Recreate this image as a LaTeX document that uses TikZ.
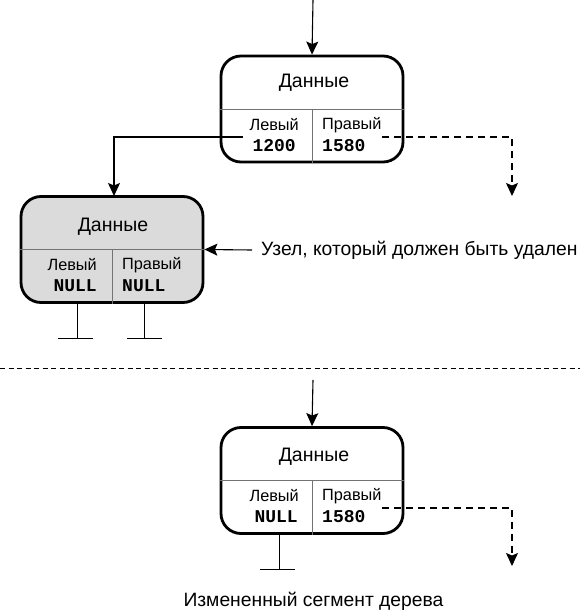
\documentclass[tikz,border=0pt]{standalone}
\usepackage{fontspec}
\setmainfont{Liberation Sans}
\newfontfamily\monof{Liberation Mono}
\usetikzlibrary{arrows.meta}
\begin{document}
\begin{tikzpicture}[x=1pt,y=-1pt,
  nodebox/.style={draw, line width=2.8pt, rounded corners=20pt, minimum width=182pt, minimum height=106pt, inner sep=0pt},
  div/.style={draw=black!55, line width=0.7pt},
  conn/.style={line width=1.1pt, -{Stealth[length=13pt,width=12pt,inset=2.5pt]}},
  dconn/.style={conn, dash pattern=on 7pt off 5pt},
  title/.style={font=\fontsize{19.5}{21}\selectfont, inner sep=0pt},
  lab/.style={font=\fontsize{16.3}{18}\selectfont, inner sep=0pt},
  val/.style={font=\monof\bfseries\fontsize{18}{19}\selectfont, inner sep=0pt},
  note/.style={font=\fontsize{19.3}{21}\selectfont, inner sep=0pt},
  gnd/.style={line width=0.9pt}
]
\useasboundingbox (0,0) rectangle (580,612);

% ---------- top node ----------
\node[nodebox] (top) at (312,109) {};
\draw[div] (top.west) -- (top.east);
\draw[div] (top.center) -- (top.south);
\node[title] (t1) at (314,83) {Данные};
\node[lab, anchor=east] (t2) at (299,125) {Левый};
\node[val, anchor=east] (t3) at (296,146) {1200};
\node[lab, anchor=west] (t4) at (322,125) {Правый};
\node[val, anchor=west] (t5) at (322,146) {1580};

\coordinate (in1) at (313,0);
\draw[conn] (in1) -- (top.north);

% ---------- node to be deleted ----------
\node[nodebox, fill=black!14] (gray) at (112,249.5) {};
\draw[div] (gray.west) -- (gray.east);
\draw[div] (gray.center) -- (gray.south);
\node[title] (g1) at (113,227) {Данные};
\node[lab, anchor=east] (g2) at (97,265) {Левый};
\node[val, anchor=east] (g3) at (97,286) {NULL};
\node[lab, anchor=west] (g4) at (122,265) {Правый};
\node[val, anchor=west] (g5) at (122,286) {NULL};

\coordinate (tl) at (243,137);
\coordinate (tlend) at (114,196);
\draw[conn] (tl) -| (tlend);

\coordinate (tr) at (382,137);
\coordinate (trend) at (512,196);
\draw[dconn] (tr) -| (trend);

% stems of gray node
\coordinate (s1a) at (77,302);
\coordinate (s1b) at (77,338);
\coordinate (s2a) at (144,302);
\coordinate (s2b) at (144,338);
\draw[gnd] (s1a) -- (s1b);
\draw[gnd] ([xshift=-19pt]s1b) -- ([xshift=16pt]s1b);
\draw[gnd] (s2a) -- (s2b);
\draw[gnd] ([xshift=-17pt]s2b) -- ([xshift=18pt]s2b);

% label
\node[note, anchor=west] (lbl) at (261,250) {Узел, который должен быть удален};
\draw[conn] ([xshift=-9pt]lbl.west) -- (gray.east);

% separator
\coordinate (sepL) at (0,368);
\coordinate (sepR) at (580,368);
\draw[line width=0.8pt, dash pattern=on 5pt off 3.5pt] (sepL) -- (sepR);

% ---------- modified node ----------
\node[nodebox] (bot) at (312,480.5) {};
\draw[div] (bot.west) -- (bot.east);
\draw[div] (bot.center) -- (bot.south);
\node[title] (b1) at (314,457) {Данные};
\node[lab, anchor=east] (b2) at (299,496) {Левый};
\node[val, anchor=east] (b3) at (298,517) {NULL};
\node[lab, anchor=west] (b4) at (322,496) {Правый};
\node[val, anchor=west] (b5) at (322,517) {1580};

\coordinate (in2) at (313,380);
\draw[conn] (in2) -- (bot.north);

\coordinate (br) at (382,508);
\coordinate (brend) at (512,566);
\draw[dconn] (br) -| (brend);

\coordinate (s3a) at (279,534);
\coordinate (s3b) at (279,569);
\draw[gnd] (s3a) -- (s3b);
\draw[gnd] ([xshift=-19pt]s3b) -- ([xshift=16pt]s3b);

\node[note] (cap) at (313.5,601) {Измененный сегмент дерева};
\end{tikzpicture}
\end{document}
